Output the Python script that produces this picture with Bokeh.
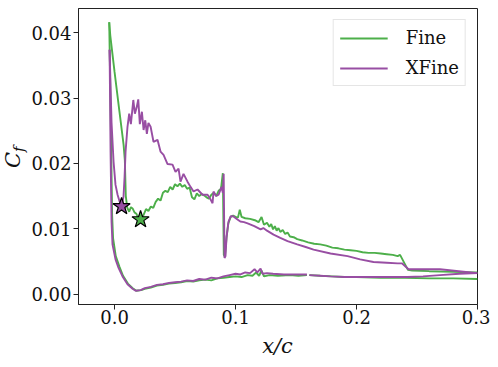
import numpy as np
from bokeh.plotting import figure
from bokeh.models import Range1d, FixedTicker, PrintfTickFormatter, Div
from bokeh.layouts import row, column
from bokeh.embed import file_html
from bokeh.resources import INLINE

# ---------------- data ----------------
fine_upper_x = [-0.0044, -0.0035, 0.000, 0.004, 0.0075, 0.0085, 0.0093, 0.0105, 0.0121, 0.0135,
                0.0149, 0.0165, 0.018, 0.0195, 0.0215, 0.024, 0.026, 0.028, 0.030, 0.032,
                0.034, 0.036, 0.038, 0.040, 0.042, 0.044, 0.046, 0.048, 0.050, 0.052,
                0.054, 0.056, 0.058, 0.060, 0.062, 0.064, 0.066, 0.068, 0.070, 0.072,
                0.074, 0.076, 0.078, 0.080, 0.082, 0.084, 0.086, 0.088, 0.0895, 0.0903,
                0.0912, 0.0925, 0.094, 0.096, 0.098, 0.100, 0.102, 0.1035, 0.105, 0.108,
                0.112, 0.116, 0.119, 0.1215, 0.1235, 0.126, 0.128, 0.1295, 0.131, 0.1325,
                0.134, 0.1355, 0.137, 0.139, 0.141, 0.143, 0.145, 0.148, 0.151, 0.155,
                0.160, 0.165, 0.170, 0.175, 0.180, 0.185, 0.190, 0.195, 0.200, 0.205,
                0.210, 0.215, 0.220, 0.225, 0.230, 0.234, 0.236, 0.2425, 0.246, 0.260,
                0.280, 0.300]
fine_upper_cf = [0.0416, 0.0395, 0.0340, 0.0280, 0.0228, 0.0205, 0.0150, 0.0132, 0.0126, 0.0133,
                 0.0131, 0.0125, 0.0123, 0.0117, 0.0114, 0.0121, 0.0130, 0.0127, 0.0134, 0.0132,
                 0.0141, 0.0146, 0.0143, 0.0155, 0.0158, 0.0156, 0.0164, 0.0160, 0.0168, 0.0165,
                 0.0169, 0.0164, 0.0167, 0.0161, 0.0163, 0.0148, 0.0145, 0.0154, 0.0150, 0.0153,
                 0.0151, 0.0148, 0.0146, 0.0152, 0.0155, 0.0150, 0.0158, 0.0161, 0.0185, 0.0060,
                 0.0057, 0.0085, 0.0108, 0.0118, 0.0120, 0.0118, 0.0117, 0.0129, 0.0118, 0.0116,
                 0.0115, 0.0113, 0.0110, 0.0118, 0.0106, 0.0109, 0.0103, 0.0107, 0.0099, 0.0104,
                 0.0097, 0.0101, 0.0095, 0.0098, 0.0092, 0.0094, 0.0088, 0.0087, 0.0084, 0.0082,
                 0.0079, 0.0077, 0.0076, 0.0074, 0.0071, 0.0070, 0.0068, 0.0067, 0.0066, 0.0064,
                 0.0063, 0.0063, 0.0062, 0.0061, 0.0060, 0.0058, 0.0060, 0.0037, 0.0036, 0.0035,
                 0.0034, 0.0033]

fine_lower_x = [-0.0044, -0.003, -0.002, -0.0012, 0.001, 0.004, 0.007, 0.011, 0.015, 0.018,
                0.022, 0.025, 0.030, 0.035, 0.040, 0.045, 0.050, 0.055, 0.060, 0.065,
                0.070, 0.075, 0.080, 0.085, 0.090, 0.095, 0.100, 0.105, 0.110, 0.114,
                0.117, 0.1195, 0.1215, 0.1235, 0.128, 0.135, 0.145, 0.152, 0.159, np.nan,
                0.161, 0.170, 0.180, 0.190, 0.200, 0.220, 0.240, 0.260, 0.280, 0.300]
fine_lower_cf = [0.0416, 0.0250, 0.0120, 0.0085, 0.0058, 0.0042, 0.0028, 0.0016, 0.0009, 0.0005,
                 0.0006, 0.0008, 0.0010, 0.0013, 0.0014, 0.0016, 0.0017, 0.0018, 0.0020, 0.0019,
                 0.0021, 0.0022, 0.0021, 0.0024, 0.0025, 0.0026, 0.0027, 0.0026, 0.0029, 0.0028,
                 0.0033, 0.0028, 0.0036, 0.0027, 0.0029, 0.0028, 0.0029, 0.0028, 0.0029, np.nan,
                 0.0029, 0.0028, 0.0027, 0.0026, 0.0026, 0.0025, 0.0025, 0.0024, 0.0024, 0.0023]

xfine_upper_x = [-0.0041, -0.0025, -0.0008, 0.0008, 0.0025, 0.0041, 0.0058, 0.0074, 0.0083, 0.0091,
                 0.0107, 0.0121, 0.0135, 0.0155, 0.0168, 0.0182, 0.0196, 0.0209, 0.0226, 0.024,
                 0.0254, 0.0267, 0.028, 0.0298, 0.0322, 0.0355, 0.038, 0.0405, 0.0438, 0.0479,
                 0.0504, 0.0529, 0.0545, 0.057, 0.0603, 0.0628, 0.0653, 0.0686, 0.0727, 0.0769,
                 0.079, 0.081, 0.0818, 0.084, 0.086, 0.0884, 0.0895, 0.0902, 0.0909, 0.0917,
                 0.0926, 0.0942, 0.096, 0.098, 0.101, 0.104, 0.107, 0.110, 0.1155, 0.1207,
                 0.123, 0.126, 0.1314, 0.137, 0.143, 0.151, 0.158, 0.1645, 0.1785, 0.1926,
                 0.203, 0.214, 0.225, 0.234, 0.2375, 0.243, 0.269, 0.300]
xfine_upper_cf = [0.0374, 0.0263, 0.0202, 0.0167, 0.0152, 0.0142, 0.0134, 0.0149, 0.0180, 0.0218,
                  0.0256, 0.0276, 0.0260, 0.0297, 0.0276, 0.0285, 0.0298, 0.0260, 0.0279, 0.0251,
                  0.0266, 0.0245, 0.0262, 0.0256, 0.0233, 0.0236, 0.0218, 0.0213, 0.0199, 0.0198,
                  0.0187, 0.0192, 0.0172, 0.0184, 0.0172, 0.0164, 0.0157, 0.0160, 0.0152, 0.0152,
                  0.0146, 0.0139, 0.0157, 0.0150, 0.0152, 0.0164, 0.0155, 0.0184, 0.0055, 0.0058,
                  0.0088, 0.0111, 0.0119, 0.0119, 0.0115, 0.0111, 0.0110, 0.0108, 0.0104, 0.0099,
                  0.0101, 0.0097, 0.0091, 0.0086, 0.0081, 0.0076, 0.0072, 0.0068, 0.0062, 0.0058,
                  0.0053, 0.0049, 0.0048, 0.0047, 0.0047, 0.0038, 0.0038, 0.0032]

xfine_lower_x = [-0.0041, -0.0033, -0.0025, -0.0017, 0.0008, 0.0033, 0.0066, 0.0107, 0.0149, 0.0174,
                 0.0215, 0.025, 0.030, 0.035, 0.040, 0.045, 0.050, 0.055, 0.060, 0.065,
                 0.070, 0.075, 0.080, 0.085, 0.090, 0.095, 0.100, 0.104, 0.108, 0.112,
                 0.1157, 0.118, 0.1207, 0.1223, 0.126, 0.131, 0.140, 0.151, 0.159, np.nan,
                 0.161, 0.170, 0.1785, 0.190, 0.203, 0.214, 0.230, 0.242, 0.255, 0.269,
                 0.285, 0.300]
xfine_lower_cf = [0.0374, 0.0218, 0.0111, 0.0076, 0.0053, 0.0040, 0.0027, 0.0015, 0.0008, 0.0005,
                  0.0006, 0.0009, 0.0011, 0.0014, 0.0015, 0.0017, 0.0018, 0.0019, 0.0021, 0.0020,
                  0.0023, 0.0022, 0.0025, 0.0024, 0.0027, 0.0029, 0.0031, 0.0030, 0.0033, 0.0032,
                  0.0038, 0.0033, 0.0039, 0.0031, 0.0032, 0.0031, 0.0030, 0.0030, 0.0030, np.nan,
                  0.0029, 0.0028, 0.0027, 0.0026, 0.0026, 0.0026, 0.0026, 0.0026, 0.0027, 0.0029,
                  0.0031, 0.0032]

star_x = [0.0058, 0.0215]
star_cf = [0.0134, 0.0114]

x_ticks = [0.0, 0.1, 0.2, 0.3]
y_ticks = [0.00, 0.01, 0.02, 0.03, 0.04]

x_label = "x/c"
y_label_main, y_label_sub = "C", "f"

GREEN = "#4daf4a"
PURPLE = "#984ea3"
FONT = "DejaVu Serif"

# ---------------- figure ----------------
p = figure(width=462, height=332,
           x_range=Range1d(-0.0298, 0.3), y_range=Range1d(-0.0016, 0.0437),
           output_backend="svg", toolbar_location=None,
           min_border_left=50, min_border_right=13, min_border_top=8, min_border_bottom=28)
p.background_fill_color = "white"
p.border_fill_color = "white"
p.xgrid.visible = False
p.ygrid.visible = False
p.outline_line_color = "#222222"
p.outline_line_width = 1
p.outline_line_alpha = 1.0

for ax in (p.xaxis[0], p.yaxis[0]):
    ax.axis_line_color = "#222222"
    ax.major_tick_line_color = "#222222"
    ax.major_tick_out = 5
    ax.major_tick_in = 0
    ax.minor_tick_line_color = None
    ax.major_label_text_font = FONT
    ax.major_label_text_font_size = "18px"
    ax.major_label_text_color = "#111111"

p.xaxis.ticker = FixedTicker(ticks=x_ticks)
p.yaxis.ticker = FixedTicker(ticks=y_ticks)
p.xaxis.formatter = PrintfTickFormatter(format="%.1f")
p.yaxis.formatter = PrintfTickFormatter(format="%.2f")
p.xaxis.major_label_standoff = 0
p.yaxis.major_label_standoff = 2

# lines
p.line(fine_upper_x, fine_upper_cf, color=GREEN, line_width=1.9, legend_label="Fine")
p.line(fine_lower_x, fine_lower_cf, color=GREEN, line_width=1.9)
p.line(xfine_upper_x, xfine_upper_cf, color=PURPLE, line_width=1.9, legend_label="XFine")
p.line(xfine_lower_x, xfine_lower_cf, color=PURPLE, line_width=1.9)

p.scatter(star_x, star_cf, marker="star", size=18,
          fill_color=[PURPLE, GREEN], line_color="black", line_width=1.2)

# legend
lg = p.legend[0]
lg.location = "top_right"
lg.margin = 11
lg.padding = 6
lg.spacing = 7
lg.glyph_width = 48
lg.glyph_height = 20
lg.label_height = 23
lg.label_standoff = 18
lg.label_text_font = FONT
lg.label_text_font_size = "18px"
lg.label_text_color = "#111111"
lg.border_line_color = "#cccccc"
lg.border_line_width = 1
lg.background_fill_alpha = 0.8

TXT_STYLE = "font-family:'DejaVu Serif',serif;font-style:italic;fill:#111111;"
# axis titles as real SVG text (C with subscript f, rotated; x/c below)
ylab = Div(width=28, height=332, margin=0, text=(
    '<svg style="display:block" width="28" height="332" xmlns="http://www.w3.org/2000/svg">'
    '<text transform="translate(20,168) rotate(-90)" style="' + TXT_STYLE + 'font-size:21px">'
    + y_label_main +
    '<tspan style="font-size:15px" dy="4">' + y_label_sub + '</tspan></text></svg>'))
xlab = Div(width=490, height=32, margin=0, text=(
    '<svg style="display:block" width="490" height="32" xmlns="http://www.w3.org/2000/svg">'
    '<text x="277.5" y="21" text-anchor="middle" style="' + TXT_STYLE + 'font-size:21px">'
    + x_label + '</text></svg>'))

layout = column(row(ylab, p, spacing=0), xlab, spacing=0)

open("out.html", "w").write(file_html(layout, INLINE))
